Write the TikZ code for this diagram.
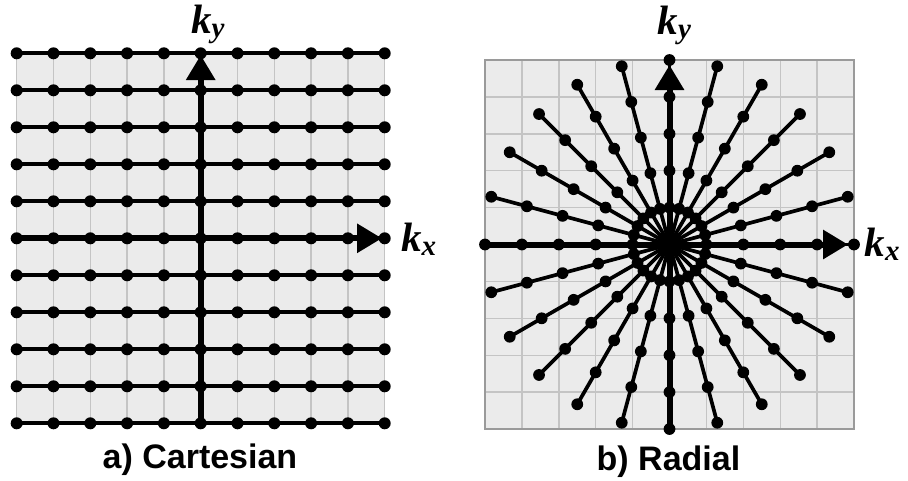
\documentclass[tikz,border=0pt]{standalone}
\usepackage{fontspec}
\setmainfont{Liberation Sans}
\newfontfamily\kfont{Liberation Serif}
\usetikzlibrary{arrows.meta}
\definecolor{bgc}{HTML}{EBEBEB}
\definecolor{gridc}{HTML}{C4C4C4}
\definecolor{borderc}{HTML}{9A9A9A}
\newcommand\klab[1]{\kfont\bfseries\itshape\fontsize{41}{41}\selectfont k\raisebox{-4pt}{\fontsize{29}{29}\selectfont #1}}
\begin{document}
\begin{tikzpicture}[x=1pt,y=-1pt,
  gridline/.style={draw=gridc, line width=1.4pt},
  rowline/.style={draw=black, line width=3.7pt},
  spoke/.style={draw=black, line width=3.7pt},
  axis/.style={draw=black, line width=6pt, -{Triangle[length=25pt,width=28pt]}},
  dot/.style={fill=black},
  lab/.style={inner sep=0pt, anchor=base west},
  captext/.style={inner sep=0pt, anchor=base, font=\bfseries\fontsize{34}{34}\selectfont}]
\useasboundingbox (0,0) rectangle (908,480);
% ---------- a) Cartesian ----------
\fill[bgc] (16.7,53.3) rectangle (384.7,423.3);
\foreach \i in {0,...,10}
  \draw[gridline] (16.7+36.8*\i,53.3) -- (16.7+36.8*\i,423.3);
\foreach \j in {0,...,10}
  \draw[rowline] (16.7,53.3+37*\j) -- (384.7,53.3+37*\j);
\foreach \i in {0,...,10}
  \foreach \j in {0,...,10}
    \fill[dot] (16.7+36.8*\i,53.3+37*\j) circle (6pt);
\coordinate (La) at (200.7,423.3);
\coordinate (Lb) at (200.7,55);
\coordinate (Lc) at (16.7,238.3);
\coordinate (Ld) at (382,238.3);
\draw[axis] (La) -- (Lb);
\draw[axis] (Lc) -- (Ld);
\node[lab] (kyL) at (191,33.3) {\klab{y}};
\node[lab] (kxL) at (401,251.7) {\klab{x}};
\node[captext] (capA) at (200,468) {a) Cartesian};
% ---------- b) Radial ----------
\fill[bgc] (485,60) rectangle (854,429);
\foreach \i in {1,...,9} {
  \draw[gridline] (485+36.9*\i,60) -- (485+36.9*\i,429);
  \draw[gridline] (485,60+36.9*\i) -- (854,60+36.9*\i);
}
\draw[draw=borderc, line width=1.4pt] (485,60) rectangle (854,429);
\coordinate (C) at (669.5,244.5);
\foreach \a in {0,15,...,345} {
  \draw[spoke, shift={(C)}] (0,0) -- (\a:184.5);
  \foreach \k in {1,...,5}
    \fill[dot, shift={(C)}] (\a:36.9*\k) circle (5.9pt);
}
\coordinate (Ra) at (669.5,429);
\coordinate (Rb) at (669.5,65);
\coordinate (Rc) at (485,244.5);
\coordinate (Rd) at (848,244.5);
\draw[axis] (Ra) -- (Rb);
\draw[axis] (Rc) -- (Rd);
\node[lab] (kyR) at (657.5,34) {\klab{y}};
\node[lab] (kxR) at (864.5,256.7) {\klab{x}};
\node[captext] (capB) at (668.5,470) {b) Radial};
\end{tikzpicture}
\end{document}
